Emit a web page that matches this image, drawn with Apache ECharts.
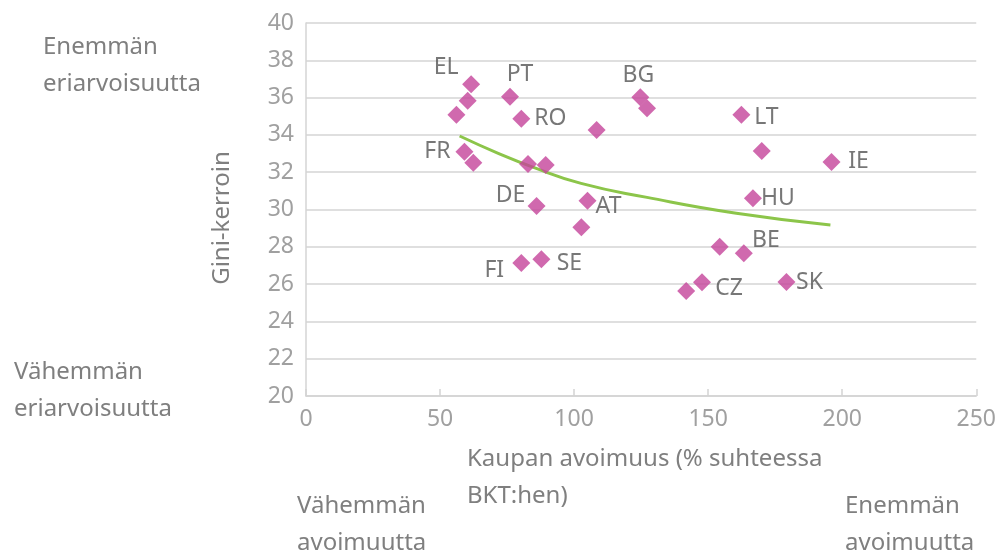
<!DOCTYPE html>
<html>
<head>
<meta charset="utf-8">
<script src="https://cdn.jsdelivr.net/npm/echarts@6/dist/echarts.min.js"></script>
<style>
html,body{margin:0;padding:0;background:#fff;}
#chart{width:999px;height:558px;}
</style>
</head>
<body>
<div id="chart"></div>
<script>
// ---- data ----
var countryLabels = ['EL','','','PT','RO','','BG','','FR','','','','DE','AT','','FI','SE','','CZ','LT','','IE','HU','','BE','SK'];
var tradeOpenness = [61.6,60.3,56.1,76.1,80.3,108.4,124.7,127.2,59.1,62.4,82.8,89.4,86.0,105.0,102.7,80.3,87.8,141.8,147.7,162.4,170.0,196.0,166.7,154.3,163.3,179.2];
var giniIndex     = [36.71,35.83,35.08,36.05,34.87,34.26,36.02,35.43,33.10,32.51,32.44,32.39,30.19,30.47,29.05,27.13,27.33,25.63,26.10,35.08,33.14,32.55,30.60,28.00,27.65,26.11];
var trendX = [57.3,71.7,84.1,102.6,127.2,160.5,195.6];
var trendY = [33.94,33.01,32.30,31.40,30.65,29.80,29.17];
var xTicks = [0,50,100,150,200,250];
var yTicks = [20,22,24,26,28,30,32,34,36,38,40];

// ---- label placement (style, not data) ----
var labelOffsets = {
  'EL':[-25,-17],'PT':[10,-22],'RO':[29,0],'BG':[-2,-22],'LT':[25,3],'FR':[-27,0],
  'IE':[27,0],'DE':[-26,-11],'AT':[21,6],'HU':[25,0],'BE':[22,-13],'FI':[-27,7],
  'SE':[28,4],'CZ':[27,6],'SK':[23,0]
};

var FONT = 'Noto Sans';
var scatterData = tradeOpenness.map(function(x,i){
  var name = countryLabels[i];
  var d = {value:[x, giniIndex[i]], name:name};
  if (name) {
    d.label = {show:true, formatter:name, position:'inside', offset:labelOffsets[name],
      align:'center', verticalAlign:'middle', color:'#555555', fontSize:23, fontFamily:FONT};
  }
  return d;
});
var trendData = trendX.map(function(x,i){return [x, trendY[i]];});

var chart = echarts.init(document.getElementById('chart'), null, {renderer:'canvas'});
var annColor = '#7f7f7f';
function ann(text, x, y){
  return {type:'text', left:x, top:y, style:{text:text, fill:annColor, font:'24px "Noto Sans"', lineHeight:37}};
}
chart.setOption({
  animation:false,
  backgroundColor:'#ffffff',
  grid:{left:306, right:17, top:23, bottom:162, containLabel:false},
  xAxis:{
    type:'value', min:xTicks[0], max:xTicks[xTicks.length-1], interval:50,
    axisLine:{show:true, lineStyle:{color:'#d4d4d4', width:1.5}},
    axisTick:{show:true, inside:true, length:7, lineStyle:{color:'#d4d4d4', width:1.5}},
    splitLine:{show:false},
    axisLabel:{color:'#a0a0a0', fontSize:23, fontFamily:FONT, margin:12}
  },
  yAxis:{
    type:'value', min:yTicks[0], max:yTicks[yTicks.length-1], interval:2,
    axisLine:{show:true, lineStyle:{color:'#d4d4d4', width:1.5}},
    axisTick:{show:false},
    splitLine:{show:true, lineStyle:{color:'#d4d4d4', width:1.5}},
    axisLabel:{color:'#a0a0a0', fontSize:23, fontFamily:FONT, margin:12}
  },
  series:[
    {type:'line', data:trendData, smooth:true, showSymbol:false, symbol:'none', z:1,
     lineStyle:{color:'#8cc54a', width:3}},
    {type:'scatter', data:scatterData, symbol:'diamond', symbolSize:18, z:3,
     itemStyle:{color:'#c4449a'}}
  ],
  graphic:[
    ann('Enemmän\neriarvoisuutta', 43, 29),
    ann('Vähemmän\neriarvoisuutta', 14, 354),
    ann('Kaupan avoimuus (% suhteessa\nBKT:hen)', 467, 441),
    ann('Vähemmän\navoimuutta', 297, 488),
    ann('Enemmän\navoimuutta', 845, 488),
    {type:'text', x:222, y:218, rotation:Math.PI/2,
     style:{text:'Gini-kerroin', fill:annColor, font:'24px "Noto Sans"', align:'center', verticalAlign:'middle'}}
  ]
});
</script>
</body>
</html>
